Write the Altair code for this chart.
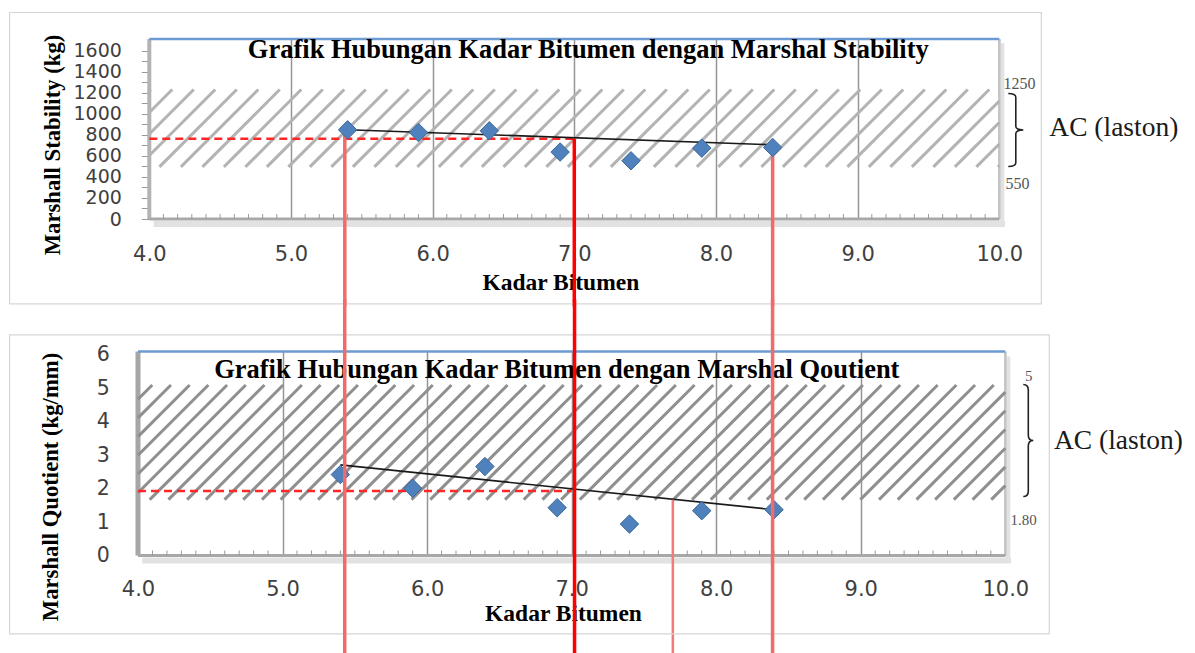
import altair as alt
import pandas as pd
import numpy as np

# ---------------- data ----------------
kadar = [5.4, 5.9, 6.4, 6.9, 7.4, 7.9, 8.4]
stability = [847, 822, 838, 636, 553, 673, 680]
quotient = [2.42, 2.01, 2.66, 1.43, 0.94, 1.34, 1.37]
stab_trend_x = [5.4, 8.4]
stab_trend_y = [848, 705]
quot_trend_x = [5.4, 8.4]
quot_trend_y = [2.71, 1.37]
stab_band = [495, 1230]          # hatched AC (laston) zone as drawn
quot_band = [1.67, 5.1]
stab_band_text = ["1250", "550"]
quot_band_text = ["5", "1.80"]
spec_text = "AC (laston)"
stab_ref = [4.0, 7.0, 762]       # red dashed line: x from, x to, y
quot_ref = [4.0, 7.0, 1.93]
top_vx = [5.38, 7.0, 8.4]        # red vertical lines (upper chart)
top_vy = [850, 762, 685]
bot_vx = [5.43, 7.02, 8.39]      # same lines on the lower chart
bot_d = [7.7, 1.67]              # extra line in lower chart
x_ticks = [4, 5, 6, 7, 8, 9, 10]
stab_ticks = list(range(0, 1601, 100))
quot_ticks = [0, 1, 2, 3, 4, 5, 6]
top_title = "Grafik Hubungan Kadar Bitumen dengan Marshal Stability"
bot_title = "Grafik Hubungan Kadar Bitumen dengan Marshal Qoutient"
x_title = "Kadar Bitumen"
top_ytitle = "Marshall Stability (kg)"
bot_ytitle = "Marshall Quotient (kg/mm)"

# ---------------- layout ----------------
W = 867.3
TOP_RANGE = [11.3, 861.3]
TOP_H, TOP_YMAX = 180, 1710
BOT_H, BOT_YMAX = 204, 6.1
SERIF = "Liberation Serif"
SANS = "DejaVu Sans"

minor_x = [round(4 + i / 10, 1) for i in range(1, 60) if i % 10 != 0]


def hatch(band, kx, ky, spacing, phase, tan=1.0):
    v0, v1 = band[0] * ky, band[1] * ky
    Wp = 6 * kx
    rows = []
    c = phase - spacing * np.ceil((v1 / tan + phase) / spacing)
    while c <= Wp:
        ua, ub = c + v0 / tan, c + v1 / tan
        va, vb = v0, v1
        if ua < 0:
            va = (0 - c) * tan
            ua = 0
        if ub > Wp:
            vb = (Wp - c) * tan
            ub = Wp
        if va < vb and ua < ub:
            rows.append({"x": 4 + ua / kx, "y": va / ky, "x2": 4 + ub / kx, "y2": vb / ky})
        c += spacing
    return pd.DataFrame(rows)


def text_layer(t, x, y, **kw):
    return alt.Chart(pd.DataFrame({"t": [t]})).mark_text(**kw).encode(
        text="t:N", x=alt.value(x), y=alt.value(y))


def brace_path(w):
    return (f"M{-w},-1 Q0,-1 0,-0.9 L0,-0.1 Q0,0 {w},0 "
            f"Q0,0 0,0.1 L0,0.9 Q0,1 {-w},1")


def panel(vals, trend_x, trend_y, ref, ymax, height, xscale, yaxis, xaxis,
          hatch_df, hatch_color, edge_rows, title, title_pos, box, notes, brace,
          spec_pos, vlines_top, vlines_bottom):
    ky = height / ymax
    ys = alt.Scale(domain=[0, ymax], nice=False, zero=False)

    def X(f="x:Q"):
        return alt.X(f, scale=xscale, axis=xaxis)

    def Y(f="y:Q"):
        return alt.Y(f, scale=ys, axis=yaxis)

    edges = alt.Chart(pd.DataFrame(edge_rows)).mark_rule(strokeCap="butt").encode(
        x=X(), x2="x2:Q", y=Y(), y2="y2:Q",
        color=alt.Color("c:N", scale=None), strokeWidth=alt.StrokeWidth("w:Q", scale=None))

    hat = alt.Chart(hatch_df).mark_rule(color=hatch_color, strokeWidth=3, strokeCap="butt").encode(
        x=X(), x2="x2:Q", y=Y(), y2="y2:Q")

    minor = alt.Chart(pd.DataFrame({"x": minor_x, "y": 0.0, "y2": 5 / ky})).mark_rule(
        color="#9a9a9a", strokeWidth=1).encode(x=X(), y=Y(), y2="y2:Q")

    dashed = alt.Chart(pd.DataFrame({"x": [ref[0]], "x2": [ref[1]], "y": [ref[2]]})).mark_rule(
        color="#ff2626", strokeWidth=2.5, strokeDash=[8, 5]).encode(x=X(), x2="x2:Q", y=Y())

    trend = alt.Chart(pd.DataFrame({"x": trend_x, "y": trend_y})).mark_line(
        color="#1a1a1a", strokeWidth=1.6).encode(x=X(), y=Y())

    pts = alt.Chart(pd.DataFrame({"x": kadar, "y": vals})).mark_point(
        shape="diamond", filled=True, size=340, fill="#4f81bd", stroke="#3a6699",
        strokeWidth=1, opacity=1).encode(x=X(), y=Y())

    vt = alt.Chart(pd.DataFrame(vlines_top)).mark_rule(strokeCap="butt").encode(
        x=X(), y=Y(), y2=alt.value(vlines_top[0]["p2"]),
        color=alt.Color("c:N", scale=None), strokeWidth=alt.StrokeWidth("w:Q", scale=None))

    vb = alt.Chart(pd.DataFrame(vlines_bottom)).mark_rule(strokeCap="butt").encode(
        x=X(), y=alt.value(vlines_bottom[0]["p1"]), y2=alt.value(vlines_bottom[0]["p2"]),
        color=alt.Color("c:N", scale=None), strokeWidth=alt.StrokeWidth("w:Q", scale=None))

    ttl = text_layer(title, title_pos[0], title_pos[1], font=SERIF, fontSize=26.5,
                     fontWeight="bold", color="#000000", align="center", baseline="alphabetic")

    outer = alt.Chart(pd.DataFrame({"a": [0]})).mark_rect(
        fill="transparent", stroke="#d6d6d6", strokeWidth=1.2).encode(
        x=alt.value(box[0]), x2=alt.value(box[1]), y=alt.value(box[2]), y2=alt.value(box[3]))

    note_layers = [text_layer(t, x, y, font=SERIF, fontSize=fs, color="#555555",
                              align="center", baseline="middle") for t, x, y, fs in notes]

    br = alt.Chart(pd.DataFrame({"a": [0]})).mark_point(
        shape=brace_path(brace[3]), filled=False, stroke="#222222", strokeWidth=1.6,
        size=brace[2] ** 2, opacity=1).encode(x=alt.value(brace[0]), y=alt.value(brace[1]))

    spec = text_layer(spec_text, spec_pos[0], spec_pos[1], font=SERIF, fontSize=27.5,
                      color="#1a1a1a", align="left", baseline="middle")

    return [edges, hat, minor, dashed, trend, vt, pts, ttl, *note_layers, br, spec, outer, vb]


# ---------------- top chart ----------------
kx_t = (TOP_RANGE[1] - TOP_RANGE[0]) / 6
ky_t = TOP_H / TOP_YMAX
xs_top = alt.Scale(domain=[4, 10], range=TOP_RANGE, nice=False, zero=False)

xaxis_top = alt.Axis(values=x_ticks, format=".1f", grid=True, gridColor="#959595", gridWidth=1.5,
                     ticks=False, domain=False, labelFont=SANS, labelFontSize=21,
                     labelColor="#404040", labelPadding=24, labelFlush=False, labelOverlap=False,
                     title=x_title, titleFont=SERIF, titleFontSize=23.5, titleFontWeight="bold",
                     titleColor="#000000", titleX=422.3, titleY=70.8, titleBaseline="alphabetic",
                     titleAlign="center")
yaxis_top = alt.Axis(values=stab_ticks, labelExpr="datum.value % 200 == 0 ? datum.label : ''",
                     format="d", grid=False, domain=False, ticks=True, tickSize=8, tickColor="#999999",
                     labelFont=SANS, labelFontSize=19, labelColor="#404040", labelPadding=20,
                     labelOverlap=False, offset=-11.3,
                     title=top_ytitle, titleFont=SERIF, titleFontSize=22.7, titleFontWeight="bold",
                     titleColor="#000000", titleAngle=270, titleX=-90, titleY=105.5,
                     titleBaseline="alphabetic", titleAlign="center")

edges_top = [
    {"x": 4.03, "x2": 10.04, "y": -5 / ky_t, "y2": -5 / ky_t, "c": "#e2e2e2", "w": 6},
    {"x": 10 + 3 / kx_t, "x2": 10 + 3 / kx_t, "y": -5 / ky_t, "y2": TOP_YMAX - 40, "c": "#e2e2e2", "w": 4},
    {"x": 4, "x2": 4, "y": 0, "y2": TOP_YMAX, "c": "#b3b3b3", "w": 4},
    {"x": 10, "x2": 10, "y": 0, "y2": TOP_YMAX, "c": "#c4c4c4", "w": 2.5},
    {"x": 4, "x2": 10, "y": 0, "y2": 0, "c": "#a8a8a8", "w": 3},
    {"x": 4, "x2": 10, "y": TOP_YMAX, "y2": TOP_YMAX, "c": "#6b9bd2", "w": 2.5},
]

vcols = ["#f26b6b", "#ff0000", "#f26b6b"]
top_v = [{"x": x, "y": y, "c": c, "w": 3.5, "p2": 267.5} for x, y, c in zip(top_vx, top_vy, vcols)]
top_vb = [{"x": 5.38, "c": "#f26b6b", "w": 0.01, "p1": 0, "p2": 0}]

top_layers = panel(
    stability, stab_trend_x, stab_trend_y, stab_ref, TOP_YMAX, TOP_H, xs_top,
    yaxis_top, xaxis_top, hatch(stab_band, kx_t, ky_t, 21.5, 1.0), "#b3b3b3", edges_top,
    top_title, (450.3, 18.8), (-128.4, 903.3, -26.5, 264.8),
    [(stab_band_text[0], 881.6, 44.5, 16), (stab_band_text[1], 879.6, 145.2, 16)],
    (877.8, 91, 73, 15 / 73), (911.3, 88.5), top_v, top_vb)
top = alt.layer(*top_layers).properties(width=W, height=TOP_H)

# ---------------- bottom chart ----------------
kx_b = W / 6
ky_b = BOT_H / BOT_YMAX
xs_bot = alt.Scale(domain=[4, 10], nice=False, zero=False)

xaxis_bot = alt.Axis(values=x_ticks, format=".1f", grid=True, gridColor="#959595", gridWidth=1.5,
                     ticks=False, domain=False, labelFont=SANS, labelFontSize=21,
                     labelColor="#404040", labelPadding=23.5, labelFlush=False, labelOverlap=False,
                     title=x_title, titleFont=SERIF, titleFontSize=23.5, titleFontWeight="bold",
                     titleColor="#000000", titleX=425, titleY=65.3, titleBaseline="alphabetic",
                     titleAlign="center")
yaxis_bot = alt.Axis(values=quot_ticks, format="d", grid=False, domain=False, ticks=False,
                     labelFont=SANS, labelFontSize=20.5, labelColor="#404040", labelPadding=28.7,
                     labelOverlap=False,
                     title=bot_ytitle, titleFont=SERIF, titleFontSize=22.7, titleFontWeight="bold",
                     titleColor="#000000", titleAngle=270, titleX=-80, titleY=135,
                     titleBaseline="alphabetic", titleAlign="center")

edges_bot = [
    {"x": 4.03, "x2": 10.04, "y": -5 / ky_b, "y2": -5 / ky_b, "c": "#e2e2e2", "w": 6},
    {"x": 10 + 3 / kx_b, "x2": 10 + 3 / kx_b, "y": -5 / ky_b, "y2": BOT_YMAX - 0.15, "c": "#e2e2e2", "w": 4},
    {"x": 4, "x2": 4, "y": 0, "y2": BOT_YMAX, "c": "#a6a6a6", "w": 5},
    {"x": 10, "x2": 10, "y": 0, "y2": BOT_YMAX, "c": "#c4c4c4", "w": 2.5},
    {"x": 4, "x2": 10, "y": 0, "y2": 0, "c": "#a8a8a8", "w": 3},
    {"x": 4, "x2": 10, "y": BOT_YMAX, "y2": BOT_YMAX, "c": "#6b9bd2", "w": 2.5},
]
bot_v = [{"x": bot_d[0], "y": bot_d[1], "c": "#f47a7a", "w": 2.5, "p2": 303}]
bot_vb = [{"x": x, "c": c, "w": 3.5, "p1": -52, "p2": 303} for x, c in zip(bot_vx, vcols)]

bot_layers = panel(
    quotient, quot_trend_x, quot_trend_y, quot_ref, BOT_YMAX, BOT_H, xs_bot,
    yaxis_bot, xaxis_bot, hatch(quot_band, kx_b, ky_b, 18.7, 12.0), "#8f8f8f", edges_bot,
    bot_title, (418.8, 26.7), (-128.4, 911.3, -16.7, 282.3),
    [(quot_band_text[0], 890.8, 24.7, 15), (quot_band_text[1], 885.6, 169, 15)],
    (890.3, 89, 112, 10 / 112), (916, 90), bot_v, bot_vb)
bottom = alt.layer(*bot_layers).properties(width=W, height=BOT_H)

chart = alt.vconcat(top, bottom, spacing=132.5, bounds="flush").properties(
    padding={"left": 0, "top": 3, "right": 0, "bottom": 0}, background="white"
).configure_view(stroke="transparent")

chart.save("out.html", embed_options={"renderer": "svg", "actions": False})
